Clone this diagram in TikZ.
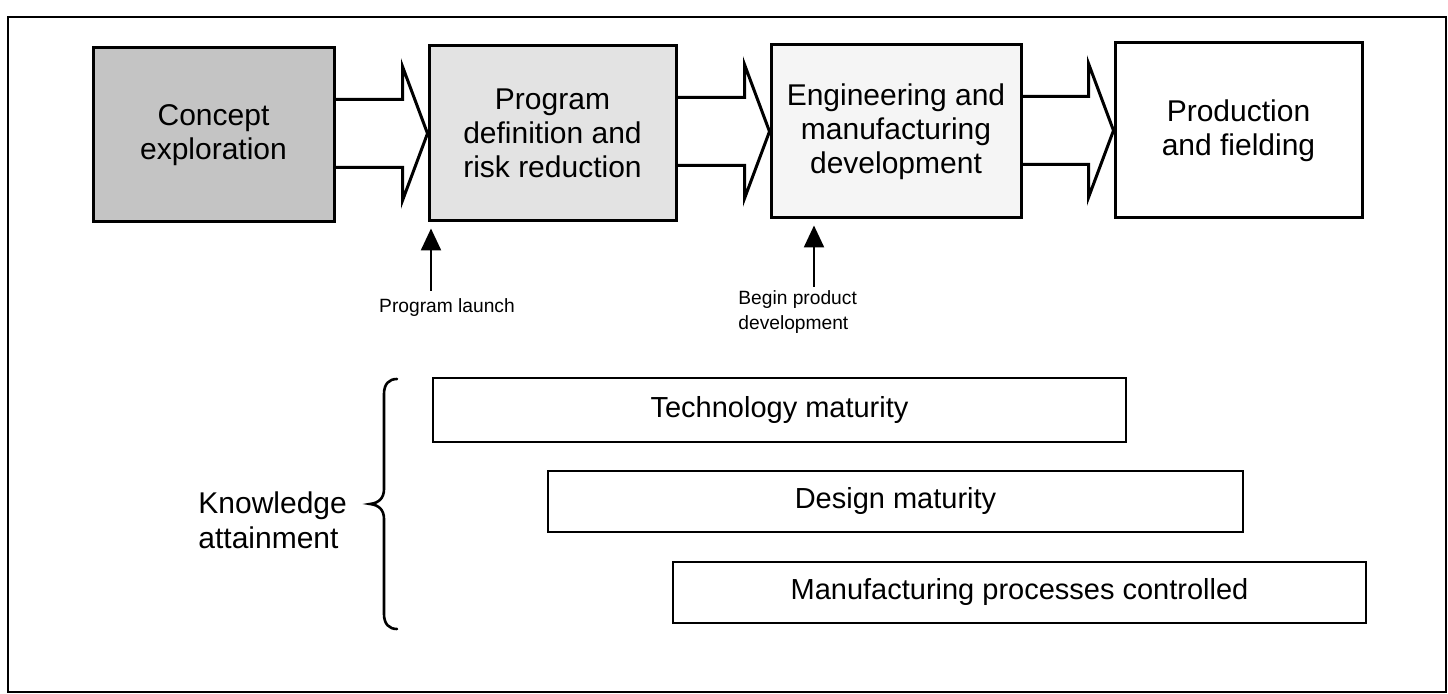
\documentclass[tikz,border=0pt]{standalone}
\usepackage{fontspec}
\setmainfont{Liberation Sans}
\usetikzlibrary{calc,arrows.meta}
\begin{document}
\begin{tikzpicture}[x=0.5pt,y=-0.5pt,
  box/.style={draw, line width=1.5pt, rectangle, align=center, font=\fontsize{15}{17}\selectfont, inner sep=0pt},
  bar/.style={draw, line width=1.4pt, rectangle, font=\fontsize{14.5}{16}\selectfont, inner sep=0pt},
  bigarrow/.style={draw, line width=1.5pt, line join=miter},
  marker/.style={line width=1.2pt, -{Triangle[length=11pt,width=10pt]}, shorten >=3pt},
  lbl/.style={font=\fontsize{9.6}{12.5}\selectfont, inner sep=0pt, align=left},
  brace/.style={line width=1.3pt, line cap=round}]
\useasboundingbox (0,0) rectangle (1448,694);
\draw[line width=1.3pt] (8,17) rectangle (1446,692);
% phase boxes
\node[box, fill=black!23, minimum width=120.5pt, minimum height=87pt] (b1) at (213.5,135) {Concept\\exploration};
\node[box, fill=black!11, minimum width=123.5pt, minimum height=87.5pt] (b2) at (552.5,133.5) {Program\\definition and\\risk reduction};
\node[box, fill=black!4, minimum width=125pt, minimum height=86.5pt] (b3) at (896,131.5) {Engineering and\\manufacturing\\development};
\node[box, fill=white, minimum width=123.5pt, minimum height=87.5pt] (b4) at (1238.5,130.5) {Production\\and fielding};
% big outline arrows
\foreach \a/\b in {b1/b2, b2/b3, b3/b4}{
  \draw[bigarrow] ($(\a.east |- \b.west)+(0,-34)$) -- ($(\b.west)+(-25,-34)$) -- ($(\b.west)+(-25,-67)$) -- (\b.west)
     -- ($(\b.west)+(-25,67)$) -- ($(\b.west)+(-25,34)$) -- ($(\a.east |- \b.west)+(0,34)$);
}
% milestones
\coordinate (m1) at (431,291);
\coordinate (m2) at (814,287);
\draw[marker] (m1) -- (m1 |- b2.south);
\draw[marker] (m2) -- (m2 |- b3.south);
\node[lbl, anchor=north] (pl) at (447,298) {Program launch};
\node[lbl, anchor=north west] (bp) at (738,290) {Begin product\\development};
% knowledge bars
\node[bar, minimum width=346.5pt, minimum height=32pt] (tm) at (779.5,410) {Technology maturity};
\node[bar, minimum width=347.5pt, minimum height=30.5pt] (dm) at (895.5,501.5) {Design maturity};
\node[bar, minimum width=346.5pt, minimum height=30.5pt] (mp) at (1019.5,592.5) {Manufacturing processes controlled};
% brace and label
\draw[brace] (397,379) .. controls (389,379) and (384,384) .. (384,394) -- (384,489)
   .. controls (384,498) and (379,503) .. (370,504)
   .. controls (379,505) and (384,510) .. (384,519) -- (384,614)
   .. controls (384,624) and (389,629) .. (397,629);
\node[font=\fontsize{15}{17.5}\selectfont, align=left, anchor=west, inner sep=0pt] (ka) at (198,520) {Knowledge\\attainment};
\end{tikzpicture}
\end{document}
